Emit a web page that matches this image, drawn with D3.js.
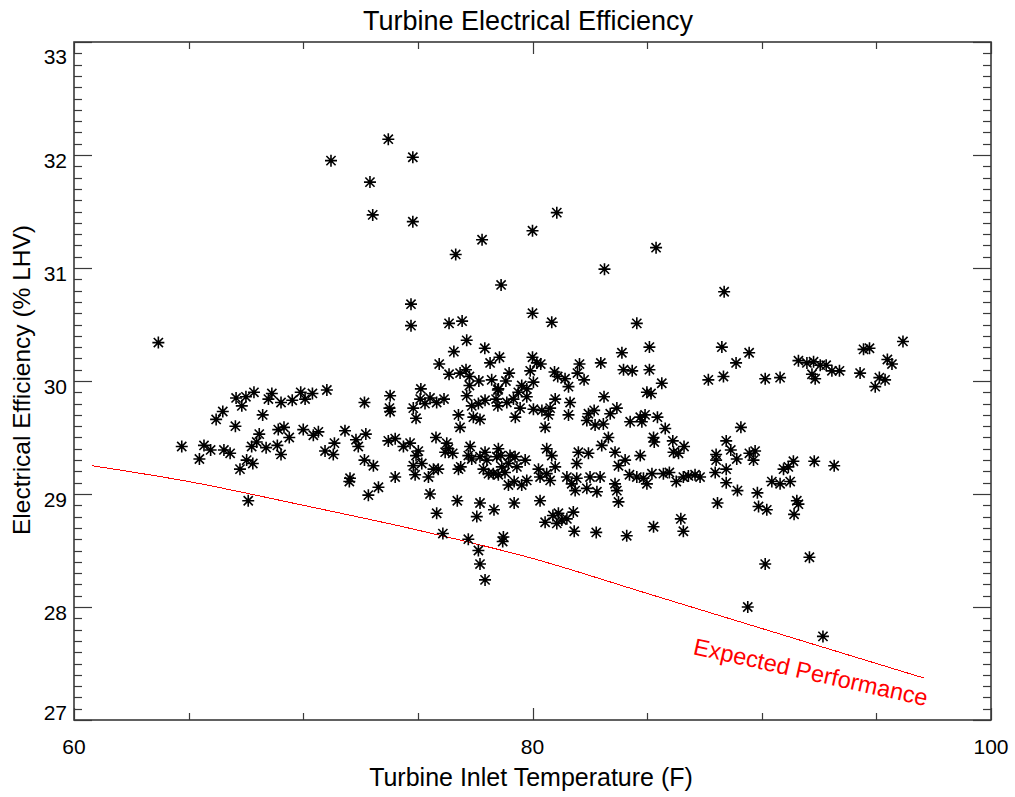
<!DOCTYPE html>
<html>
<head>
<meta charset="utf-8">
<script src="https://cdn.jsdelivr.net/npm/d3@7/dist/d3.min.js"></script>
<style>
  html, body { margin: 0; padding: 0; background: #fff; }
  svg { display: block; font-family: "Liberation Sans", Arial, Helvetica, sans-serif; }
</style>
</head>
<body>
<svg id="chart" width="1015" height="797"></svg>
<script>
// Measured turbine operating points: [inlet temperature (F), electrical efficiency (% LHV)]
const observations = [
  [73.71,32.14],[74.78,31.98],[71.21,31.95],[72.91,31.76],[73.03,31.47],[74.78,31.41],[77.80,31.25],[81.06,31.49],
  [80.00,31.33],[76.65,31.12],[85.39,31.18],[83.14,30.99],[78.63,30.85],[88.36,30.79],[74.70,30.68],[74.70,30.49],
  [76.36,30.51],[76.93,30.53],[80.00,30.60],[80.84,30.52],[84.55,30.51],[63.68,30.34],[77.13,30.36],[77.92,30.29],
  [76.57,30.26],[83.90,30.25],[85.10,30.30],[75.93,30.15],[78.15,30.16],[78.56,30.21],[80.00,30.21],[80.19,30.16],
  [80.36,30.15],[79.90,30.09],[82.05,30.15],[82.98,30.16],[76.36,30.06],[76.84,30.07],[77.10,30.10],[77.25,30.04],
  [77.66,30.00],[78.22,30.01],[78.98,30.07],[78.84,30.00],[80.96,30.08],[81.10,30.04],[81.42,30.02],[81.96,30.07],
  [82.25,30.01],[83.97,30.10],[84.35,30.09],[85.10,30.10],[77.25,29.96],[78.51,29.93],[81.57,29.95],[79.53,29.96],
  [79.75,29.93],[80.04,29.99],[75.13,29.93],[73.79,29.87],[75.10,29.84],[75.53,29.85],[75.31,29.80],[74.80,29.76],
  [75.82,29.81],[76.14,29.84],[73.76,29.76],[73.79,29.73],[74.92,29.67],[77.13,29.87],[77.35,29.78],[77.64,29.80],
  [77.93,29.83],[78.49,29.92],[78.41,29.84],[78.49,29.78],[78.88,29.81],[79.17,29.84],[79.38,29.90],[79.75,29.86],
  [79.46,29.76],[80.04,29.75],[80.41,29.74],[80.77,29.76],[80.69,29.70],[80.99,29.84],[81.64,29.81],[81.57,29.70],
  [83.12,29.86],[76.77,29.70],[77.42,29.68],[77.71,29.66],[79.25,29.68],[80.55,29.59],[76.84,29.59],[82.69,29.74],
  [82.44,29.71],[82.37,29.65],[82.73,29.61],[83.09,29.62],[83.39,29.71],[83.68,29.76],[84.26,29.64],[84.70,29.68],
  [84.91,29.70],[84.77,29.64],[85.45,29.68],[84.99,29.90],[85.17,29.89],[85.64,29.98],[85.79,29.58],
  [73.71,29.47],[74.01,29.49],[74.37,29.42],[74.66,29.45],[75.02,29.38],[74.92,29.34],[74.80,29.25],[75.17,29.27],
  [74.88,29.17],[75.46,29.15],[75.68,29.22],[75.89,29.22],[75.79,29.50],[76.26,29.45],[76.33,29.40],[76.19,29.37],
  [76.52,29.36],[76.77,29.22],[76.87,29.24],[77.28,29.42],[77.20,29.34],[77.35,29.31],[77.71,29.33],[77.93,29.37],
  [78.01,29.30],[77.86,29.22],[78.08,29.18],[78.51,29.40],[78.62,29.34],[78.44,29.33],[78.66,29.24],[78.29,29.18],
  [78.51,29.17],[78.80,29.19],[79.02,29.34],[79.24,29.33],[78.95,29.27],[79.32,29.24],[79.20,29.11],[78.95,29.08],
  [79.53,29.08],[79.75,29.12],[79.68,29.30],[80.26,29.22],[80.33,29.15],[80.62,29.40],[80.84,29.34],[80.77,29.12],
  [80.62,29.18],[80.99,29.24],[81.50,29.15],[81.71,29.09],[81.93,29.14],[81.86,29.03],[82.00,29.37],[81.93,29.27],
  [82.44,29.36],[82.51,29.15],[82.95,29.15],[82.37,29.05],[82.81,29.02],[83.02,29.43],[83.31,29.50],[83.60,29.37],
  [83.75,29.25],[84.04,29.30],[83.60,29.09],[83.68,29.03],[83.75,28.93],[84.23,29.17],[84.55,29.15],[84.99,29.09],
  [84.70,29.34],[85.21,29.18],[85.28,29.50],[85.71,29.18],[73.06,29.25],[74.01,29.15],[73.28,29.06],[75.53,29.00],
  [76.72,28.94],[77.71,28.92],[79.20,28.92],[80.33,28.94],[75.82,28.83],[77.57,28.80],[78.32,28.86],[80.55,28.75],
  [80.89,28.81],[81.13,28.83],[81.28,28.77],[81.50,28.78],[81.78,28.84],[81.06,28.74],[81.82,28.67],[82.78,28.66],
  [84.11,28.63],[85.28,28.71],[76.09,28.65],[77.20,28.60],[78.73,28.62],[78.70,28.58],[77.64,28.50],[77.71,28.38],
  [77.93,28.24],
  [67.07,29.85],[67.50,29.86],[67.85,29.90],[67.32,29.78],[66.49,29.73],[66.20,29.66],[67.04,29.60],[68.23,29.70],
  [68.48,29.84],[68.63,29.89],[69.03,29.81],[69.52,29.83],[69.89,29.90],[70.08,29.84],[70.40,29.89],[71.03,29.92],
  [72.67,29.81],[64.70,29.42],[65.67,29.43],[65.96,29.39],[65.47,29.31],[66.54,29.39],[66.81,29.36],[67.75,29.42],
  [68.08,29.53],[67.97,29.46],[68.38,29.41],[68.91,29.57],[69.16,29.59],[69.39,29.50],[68.87,29.43],[69.03,29.35],
  [70.00,29.57],[70.44,29.52],[70.66,29.55],[70.95,29.38],[71.31,29.35],[71.36,29.45],[71.82,29.56],[72.30,29.48],
  [72.40,29.42],[72.73,29.53],[72.67,29.30],[67.53,29.30],[67.80,29.27],[67.24,29.22],[72.04,29.14],[72.01,29.11],
  [72.84,28.99],[67.60,28.94],
  [88.26,30.30],[87.67,30.01],[88.33,30.04],[88.88,30.16],[89.45,30.25],[90.15,30.02],[90.80,30.03],[91.60,30.18],
  [91.97,30.16],[92.26,30.17],[92.55,30.14],[92.81,30.14],[92.19,30.06],[92.33,30.02],[93.06,30.09],[93.39,30.09],
  [94.29,30.07],[94.44,30.28],[94.70,30.29],[96.16,30.35],[95.48,30.19],[95.68,30.15],[94.95,29.95],[95.13,30.03],
  [95.38,30.01],[85.31,29.46],[86.12,29.47],[86.15,29.37],[86.37,29.36],[86.61,29.42],[84.84,29.14],[85.97,29.19],
  [86.27,29.11],[86.58,29.15],[86.80,29.16],[87.09,29.17],[87.31,29.15],[88.01,29.35],[88.01,29.30],[87.97,29.19],
  [88.45,29.47],[88.65,29.39],[88.91,29.31],[88.45,29.22],[88.45,29.10],[88.94,29.03],[88.07,28.92],[89.09,29.59],
  [89.46,29.36],[89.71,29.38],[89.64,29.30],[89.81,29.01],[89.86,28.89],[90.22,28.86],[90.44,29.11],[90.80,29.09],
  [91.24,29.11],[90.95,29.22],[91.16,29.24],[91.38,29.29],[92.29,29.29],[93.16,29.25],[91.53,28.94],[91.60,28.91],
  [91.41,28.82],[86.47,28.78],[86.58,28.67],[90.15,28.38],[92.08,28.44],[89.39,28.00],[92.67,27.74]
];

// Expected performance curve (temperature, efficiency)
const expectedTemp = [60.8, 65, 70, 75, 80, 85, 90, 95, 97.1];
const expectedEff  = [29.25, 29.11, 28.90, 28.68, 28.43, 28.12, 27.81, 27.50, 27.37];

// Axis settings
const xDomain = [60, 100];
const yDomain = [27, 33];
const xMajorTicks = [60, 80, 100];
const xMinorTicks = [65, 70, 75, 85, 90, 95];
const yMajorTicks = [27, 28, 29, 30, 31, 32, 33];

const titleText = "Turbine Electrical Efficiency";
const xTitleText = "Turbine Inlet Temperature (F)";
const yTitleText = "Electrical Efficiency (% LHV)";
const curveLabel = "Expected Performance";

const svg = d3.select("#chart");
const plot = { left: 74, right: 991, top: 42, bottom: 720 };

const x = d3.scaleLinear().domain(xDomain).range([plot.left, plot.right]);
const y = d3.scaleLinear().domain(yDomain).range([plot.bottom, plot.top]);

const axisColor = "#3a3a3a";

// Y minor ticks every 0.1
const yMinorTicks = d3.range(270, 331).map(v => v / 10).filter(v => !yMajorTicks.includes(v));

const ticks = svg.append("g").attr("stroke", axisColor).attr("stroke-width", 1.2);

function hTicks(values, len) {
  values.forEach(v => {
    const yy = Math.round(y(v)) + 0.5;
    ticks.append("line").attr("x1", plot.left).attr("x2", plot.left + len).attr("y1", yy).attr("y2", yy);
    ticks.append("line").attr("x1", plot.right).attr("x2", plot.right - len).attr("y1", yy).attr("y2", yy);
  });
}
function vTicks(values, len) {
  values.forEach(v => {
    const xx = Math.round(x(v)) + 0.5;
    ticks.append("line").attr("y1", plot.bottom).attr("y2", plot.bottom - len).attr("x1", xx).attr("x2", xx);
    ticks.append("line").attr("y1", plot.top).attr("y2", plot.top + len).attr("x1", xx).attr("x2", xx);
  });
}
hTicks(yMinorTicks, 8);
hTicks(yMajorTicks, 18);
vTicks(xMinorTicks, 7);
vTicks(xMajorTicks, 12);

// Frame
svg.append("rect")
  .attr("x", plot.left).attr("y", plot.top)
  .attr("width", plot.right - plot.left).attr("height", plot.bottom - plot.top)
  .attr("fill", "none").attr("stroke", axisColor).attr("stroke-width", 1.6);

// Tick labels
svg.append("g").selectAll("text").data(yMajorTicks).join("text")
  .attr("x", 67)
  .attr("y", d => Math.max(plot.top + 22, Math.min(plot.bottom, y(d) + 12.5)))
  .attr("text-anchor", "end")
  .attr("font-size", 21)
  .attr("fill", "#000")
  .text(d => d);

svg.append("g").selectAll("text").data(xMajorTicks).join("text")
  .attr("x", d => x(d))
  .attr("y", 754)
  .attr("text-anchor", "middle")
  .attr("font-size", 21)
  .attr("fill", "#000")
  .text(d => d);

// Titles
svg.append("text").attr("x", 528).attr("y", 30).attr("text-anchor", "middle")
  .attr("font-size", 27).attr("fill", "#000").text(titleText);
svg.append("text").attr("x", 531).attr("y", 786).attr("text-anchor", "middle")
  .attr("font-size", 25).attr("fill", "#000").text(xTitleText);
svg.append("text").attr("transform", "translate(30,380) rotate(-90)").attr("text-anchor", "middle")
  .attr("font-size", 24.5).attr("fill", "#000").text(yTitleText);

// Expected performance curve
const expected = expectedTemp.map((t, i) => [t, expectedEff[i]]);
svg.append("path")
  .datum(expected)
  .attr("d", d3.line().curve(d3.curveMonotoneX).x(d => x(d[0])).y(d => y(d[1])))
  .attr("fill", "none")
  .attr("stroke", "#ff0000")
  .attr("stroke-width", 1)
  .attr("shape-rendering", "crispEdges");

svg.append("text")
  .attr("transform", "translate(809,680) rotate(12.6)")
  .attr("text-anchor", "middle")
  .attr("font-size", 23.5)
  .attr("fill", "#ff0000")
  .text(curveLabel);

// Asterisk markers
const r = 6, rd = 4.6;
const star = `M${-r},0H${r}M0,${-r}V${r}M${-rd},${-rd}L${rd},${rd}M${-rd},${rd}L${rd},${-rd}`;
svg.append("g").selectAll("path").data(observations).join("path")
  .attr("transform", d => `translate(${x(d[0])},${y(d[1])})`)
  .attr("d", star)
  .attr("fill", "none")
  .attr("stroke", "#000")
  .attr("stroke-width", 1.6);
</script>
</body>
</html>
